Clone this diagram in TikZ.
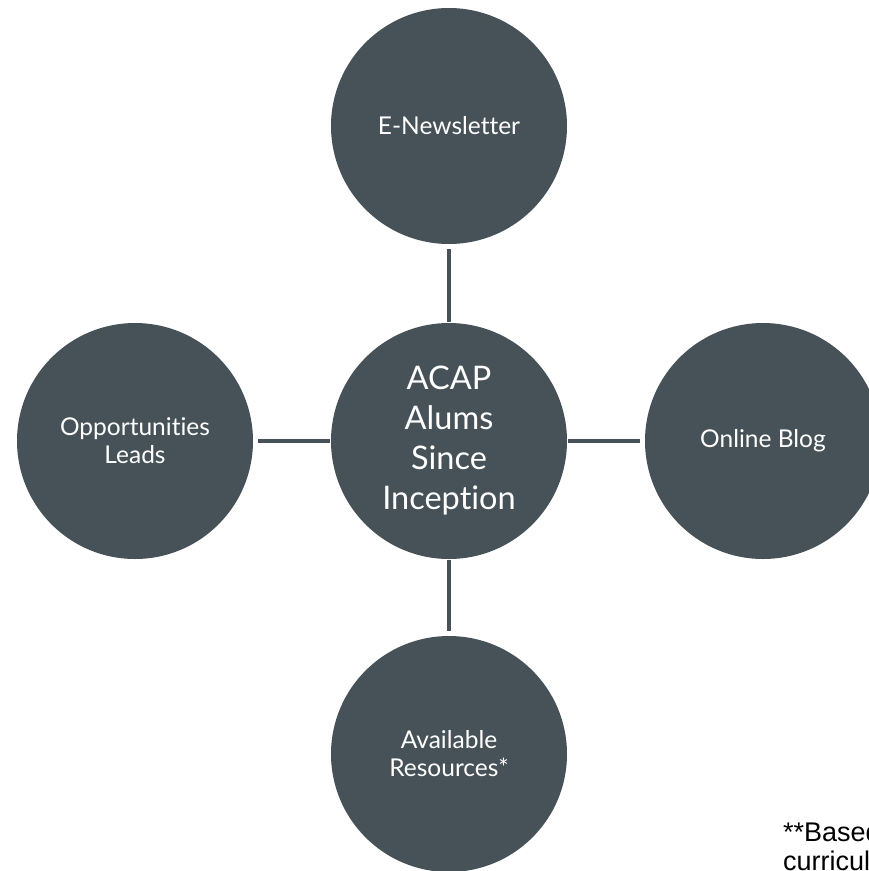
\documentclass[tikz,border=0pt]{standalone}
\usepackage{fontspec}
\setmainfont{Lato}[Ligatures=NoCommon]
\newfontfamily\notefont{Liberation Sans}
\definecolor{slate}{RGB}{71,82,88}
\tikzset{
  bubble/.style={circle, fill=slate, minimum size=236pt, inner sep=0pt, text=white, align=center,
    font=\fontsize{24.5}{28}\selectfont},
  hub/.style={bubble, font=\fontsize{32.5}{40}\selectfont},
  conn/.style={draw=slate, line width=4.5pt, shorten <=1pt, shorten >=5pt},
  note/.style={anchor=base west, inner sep=0pt, font=\notefont\fontsize{27}{28}\selectfont, text=black}
}
\begin{document}
\begin{tikzpicture}[x=1pt,y=-1pt]
\useasboundingbox (0,0) rectangle (869,871);
\clip (0,0) rectangle (869,871);
\node[hub] (c) at (449,441) {ACAP\\Alums\\Since\\Inception};
\node[bubble] (t) at (449,126) {E-Newsletter};
\node[bubble] (l) at (135,441) {Opportunities\\Leads};
\node[bubble] (r) at (763,441) {Online Blog};
\node[bubble] (b) at (449,754) {Available\\Resources*};
\draw[conn] (c) -- (t);
\draw[conn] (c) -- (l);
\draw[conn] (c) -- (r);
\draw[conn] (c) -- (b);
\node[note] (n1) at (783,841) {**Based};
\node[note] (n2) at (783,870) {curricul};
\end{tikzpicture}
\end{document}
